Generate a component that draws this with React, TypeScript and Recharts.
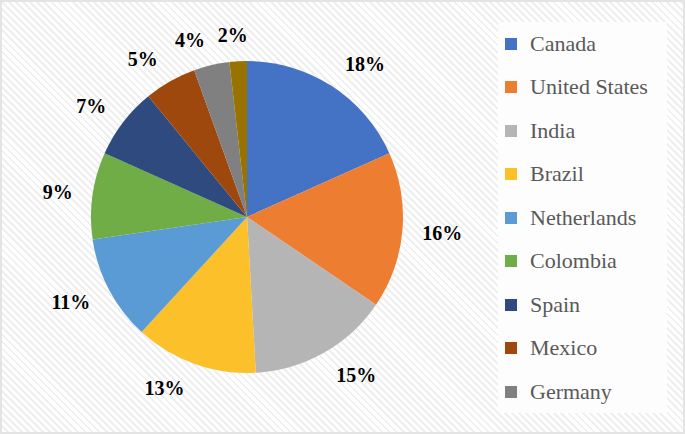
import React from 'react';
import { PieChart, Pie, Cell, Legend } from 'recharts';

// share of respondents by country, in percent (last slice is not listed in the legend)
const countries = ['Canada', 'United States', 'India', 'Brazil', 'Netherlands', 'Colombia', 'Spain', 'Mexico', 'Germany', 'Other'];
const shares = [18.3, 16.2, 14.6, 12.7, 10.9, 9.0, 7.4, 5.4, 3.7, 1.8];
const colors = ['#4472C4', '#ED7D31', '#B5B5B5', '#FBC02A', '#5B9BD5', '#70AD47', '#2E4A7E', '#9E480E', '#808080', '#997300'];
const legendCount = 9;

const data = countries.map((name, i) => ({ name, value: shares[i] }));

const SERIF = "'Times New Roman', 'Liberation Serif', 'DejaVu Serif', serif";
const RADIAN = Math.PI / 180;

// outside-end label, box pushed away from the pie like Excel does
const renderLabel = (props: any) => {
  const { cx, cy, midAngle, outerRadius, percent } = props;
  const text = `${Math.round(percent * 100)}%`;
  const w = text.length * 10;
  const cos = Math.cos(-midAngle * RADIAN);
  const sin = Math.sin(-midAngle * RADIAN);
  const r = outerRadius + 15;
  const shiftX = (w / 2 + 10) * Math.max(-1, Math.min(1, cos * 4));
  const x = cx + r * cos + shiftX;
  const y = cy + r * sin + 11 * sin;
  return (
    <text
      x={x}
      y={y}
      textAnchor="middle"
      dominantBaseline="central"
      fontFamily={SERIF}
      fontWeight="bold"
      fontSize={20}
      fill="#000"
    >
      {text}
    </text>
  );
};

const renderLegend = () => (
  <div
    style={{
      background: '#fdfdfd',
      width: 169,
      height: 391,
      boxSizing: 'border-box',
    }}
  >
    {countries.slice(0, legendCount).map((name, i) => (
      <div key={name} style={{ display: 'flex', alignItems: 'center', height: 43.5 }}>
        <span style={{ display: 'inline-block', width: 12, height: 12, background: colors[i], marginLeft: 7, marginRight: 13 }} />
        <span style={{ fontFamily: SERIF, fontSize: 22, color: '#595959' }}>{name}</span>
      </div>
    ))}
  </div>
);

export default function App() {
  return (
    <div
      style={{
        position: 'absolute',
        left: 0,
        top: 0,
        width: 685,
        height: 434,
        boxSizing: 'border-box',
        border: '2px solid #e4e4e4',
        background: 'repeating-linear-gradient(45deg, #ffffff 0px, #ffffff 3px, #efefef 3px, #efefef 5px)',
      }}
    >
      <div style={{ position: 'absolute', left: -2, top: -2 }}>
        <PieChart width={685} height={434} margin={{ top: 0, right: 0, bottom: 0, left: 0 }}>
          <Pie
            data={data}
            dataKey="value"
            nameKey="name"
            cx={247}
            cy={217}
            outerRadius={156}
            startAngle={90}
            endAngle={-270}
            stroke="none"
            label={renderLabel}
            labelLine={false}
            isAnimationActive={false}
          >
            {data.map((entry, index) => (
              <Cell key={`cell-${index}`} fill={colors[index]} />
            ))}
          </Pie>
          <Legend
            content={renderLegend}
            wrapperStyle={{ left: 498, top: 22, width: 169, height: 391 }}
          />
        </PieChart>
      </div>
    </div>
  );
}
